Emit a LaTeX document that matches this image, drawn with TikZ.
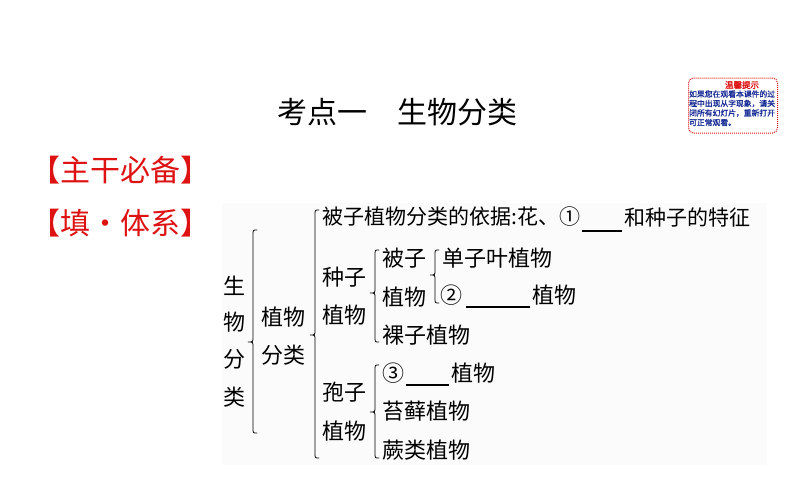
\documentclass[tikz,border=0pt]{standalone}
\usepackage{fontspec}
\setmainfont{Noto Sans CJK SC}
\newfontfamily\tipfont[FakeBold=1.5]{Noto Sans CJK SC}
\definecolor{hred}{RGB}{222,18,18}
\definecolor{tipblue}{RGB}{25,45,150}
\newcommand\drawbrace[5]{% x, ytop, ybottom, ytip, xtip
  \draw[bracestyle] (#1+4,#2) .. controls (#1,#2) .. (#1,#2+5) -- (#1,#4-5)
    .. controls (#1,#4) .. (#5,#4) .. controls (#1,#4) .. (#1,#4+5)
    -- (#1,#3-5) .. controls (#1,#3) .. (#1+4,#3);}
\begin{document}
\begin{tikzpicture}[x=1pt,y=-1pt,
  txt/.style={inner sep=0pt, font=\fontsize{22}{22}\selectfont},
  txtw/.style={txt, anchor=west},
  lineone/.style={inner sep=0pt, anchor=west, font=\fontsize{21}{21}\selectfont},
  redhead/.style={inner sep=0pt, anchor=west, text=hred, font=\fontsize{30}{30}\selectfont},
  tipline/.style={inner sep=0pt, anchor=west, text=tipblue, font=\tipfont\fontsize{7.8}{7.8}\selectfont},
  bracestyle/.style={line width=0.8pt, line cap=round},
  blank/.style={line width=1.1pt}]
\useasboundingbox[fill=white] (0,0) rectangle (794,495);
% faint background of the diagram
\fill[black!1.5] (222,203) rectangle (767,465);
% title
\node[inner sep=0pt, font=\fontsize{30}{30}\selectfont] (title) at (397.5,112) {考点一　生物分类};
% red headings
\node[redhead] (h1) at (30,170) {【主干必备】};
\node[redhead] (h2) at (30,223) {【填\makebox[30pt]{·}体系】};
% tip box
\node[draw=hred, line width=1pt, dash pattern=on 1pt off 1pt, rounded corners=5pt,
      minimum width=89pt, minimum height=55pt, inner sep=0pt] (tip) at (733,105.5) {};
\node[inner sep=0pt, text=hred, font=\tipfont\fontsize{8.5}{8.5}\selectfont] (tiptitle) at (742,85) {温馨提示};
\node[tipline] (tl1) at (689,94) {如果您在观看本课件的过};
\node[tipline] (tl2) at (689,103.5) {程中出现从字现象，请关};
\node[tipline] (tl3) at (689,113) {闭所有幻灯片，重新打开};
\node[tipline] (tl4) at (689,122.5) {可正常观看。};
% level 0
\node[txt] (s1) at (234,286) {生};
\node[txt] (s2) at (234,322) {物};
\node[txt] (s3) at (234,359) {分};
\node[txt] (s4) at (234,397) {类};
\drawbrace{253}{230}{433}{342}{248}
% level 1
\node[txt] (zw1) at (283,317) {植物};
\node[txt] (zw2) at (283,355) {分类};
\drawbrace{315}{210}{458}{335}{310}
% level 2
\node[lineone] (l1a) at (322,217) {被子植物分类的依据:花、①};
\coordinate (u1s) at (582,231);
\coordinate (u1e) at (622,231);
\draw[blank] (u1s) -- (u1e);
\node[lineone] (l1b) at (624,217) {和种子的特征};
\node[txt] (zz1) at (344,277) {种子};
\node[txt] (zz2) at (344,315) {植物};
\node[txt] (bz1) at (344,392) {孢子};
\node[txt] (bz2) at (344,431) {植物};
\drawbrace{375}{250}{342}{293}{370}
\drawbrace{375}{365}{458}{412}{370}
% level 3
\node[txt] (pz1) at (404,258) {被子};
\node[txt] (pz2) at (404,297) {植物};
\node[txtw] (lz) at (382,335) {裸子植物};
\drawbrace{435}{250}{303}{275}{430}
\node[txtw] (dz) at (442,258) {单子叶植物};
\node[txtw] (c2) at (440,295) {②};
\coordinate (u2s) at (466,307);
\coordinate (u2e) at (530,307);
\draw[blank] (u2s) -- (u2e);
\node[txtw] (c2b) at (532,295) {植物};
\node[txtw] (c3) at (382,373) {③};
\coordinate (u3s) at (406,385);
\coordinate (u3e) at (449,385);
\draw[blank] (u3s) -- (u3e);
\node[txtw] (c3b) at (451,373) {植物};
\node[txtw] (tx) at (382,411) {苔藓植物};
\node[txtw] (jl) at (382,450) {蕨类植物};
\end{tikzpicture}
\end{document}
